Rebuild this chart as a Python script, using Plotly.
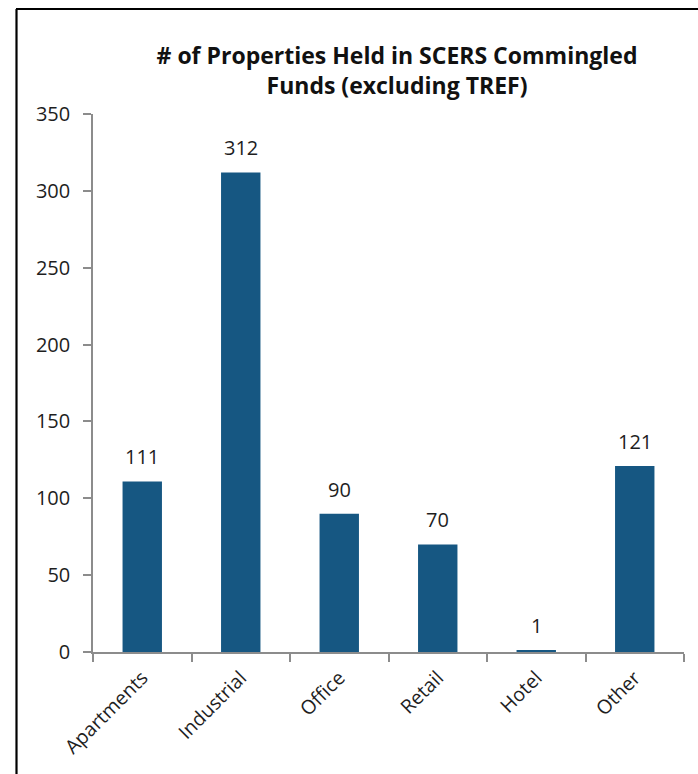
import plotly.graph_objects as go

# Property counts by sector
categories = ["Apartments", "Industrial", "Office", "Retail", "Hotel", "Other"]
counts = [111, 312, 90, 70, 1, 121]
y_ticks = [0, 50, 100, 150, 200, 250, 300, 350]

W, H = 698, 774
L, R, T, B = 93, 14, 114, 122
plot_w = W - L - R
plot_h = H - T - B

BAR = "#165782"
AXIS = "#8c8c8c"
TEXT = "#1e1e1e"
FONT = "Open Sans, Noto Sans, sans-serif"

fig = go.Figure(
    go.Bar(
        x=categories,
        y=counts,
        marker=dict(color=BAR, line=dict(width=0)),
        width=0.4,
        hoverinfo="x+y",
    )
)

# value labels above each bar
for cat, val in zip(categories, counts):
    fig.add_annotation(
        x=cat, y=val, text=str(val),
        showarrow=False, yanchor="bottom", yshift=9,
        font=dict(size=20, color=TEXT, family=FONT),
    )

# frame lines along the top and left edge of the page
def px_x(p):
    return (p - L) / plot_w

def px_y(p):
    return (H - B - p) / plot_h

fig.add_shape(type="line", xref="paper", yref="paper",
              x0=px_x(16), x1=px_x(W + 2), y0=px_y(9), y1=px_y(9),
              line=dict(color="black", width=2.2))
fig.add_shape(type="line", xref="paper", yref="paper",
              x0=px_x(16.5), x1=px_x(16.5), y0=px_y(9), y1=px_y(H + 2),
              line=dict(color="black", width=2.2))

fig.update_layout(
    width=W,
    height=H,
    margin=dict(l=L, r=R, t=T, b=B),
    paper_bgcolor="white",
    plot_bgcolor="white",
    showlegend=False,
    title=dict(
        text="<b># of Properties Held in SCERS Commingled<br>Funds (excluding TREF)</b>",
        x=397 / W,
        xanchor="center",
        y=1 - 64 / H,
        yanchor="middle",
        font=dict(size=23, color="#111111", family=FONT),
    ),
    xaxis=dict(
        showline=True,
        linecolor=AXIS,
        linewidth=1.5,
        ticks="outside",
        tickson="boundaries",
        ticklen=8,
        tickcolor=AXIS,
        tickwidth=1.5,
        tickangle=-45,
        tickfont=dict(size=19.5, color=TEXT, family=FONT),
        ticklabelstandoff=5,
        showgrid=False,
    ),
    yaxis=dict(
        range=[0, 350],
        tickvals=y_ticks,
        showline=True,
        linecolor=AXIS,
        linewidth=1.5,
        ticks="outside",
        ticklen=8,
        tickcolor=AXIS,
        tickwidth=1.5,
        tickfont=dict(size=20, color=TEXT, family=FONT),
        showgrid=False,
        zeroline=False,
        ticklabelstandoff=9,
    ),
)

fig.write_html("out.html")
